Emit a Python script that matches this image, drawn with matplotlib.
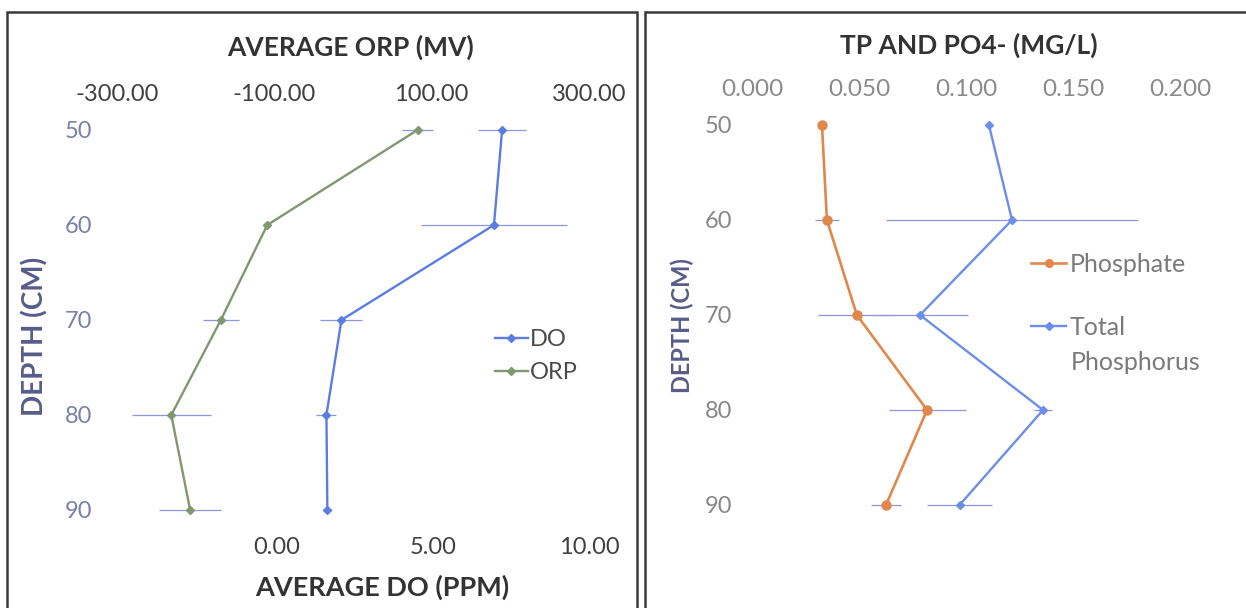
import matplotlib
matplotlib.use('Agg')
import matplotlib.pyplot as plt
from matplotlib.patches import Rectangle
from matplotlib.lines import Line2D

# data
depth = [50, 60, 70, 80, 90]

do_mean = [7.22, 6.96, 2.08, 1.60, 1.63]
do_err = [0.77, 2.33, 0.67, 0.32, 0.15]
orp_mean = [82, -109, -168, -231, -207]
orp_err = [20, 4, 23, 50, 39]

phosphate = [0.0327, 0.0350, 0.0490, 0.0818, 0.0626]
phosphate_err = [0.0, 0.0056, 0.018, 0.018, 0.007]
tp = [0.1107, 0.1215, 0.0785, 0.1360, 0.0970]
tp_err = [0.0, 0.059, 0.0224, 0.004, 0.015]

do_ticks = [0, 5, 10]
orp_ticks = [-300, -100, 100, 300]
p_ticks = [0.0, 0.05, 0.10, 0.15, 0.20]

plt.rcParams['font.family'] = 'Lato'

W, H = 1246, 608
fig = plt.figure(figsize=(W / 100, H / 100), dpi=100)
fig.patch.set_facecolor('white')

def fx(px):
    return px / W

def fy(py):
    return 1 - py / H

# colours
c_do = '#5b7de2'
c_orp = '#80976f'
c_err = '#8d97dc'
c_ph = '#e0884c'
c_tp = '#6b8fe8'
c_dark = '#333333'
c_ylab = '#7b80a8'

# panel borders
fig.add_artist(Rectangle((fx(7), -0.05), fx(630), fy(12) + 0.05, transform=fig.transFigure,
                         fill=False, edgecolor='#3a3a3a', linewidth=1.8))
fig.add_artist(Rectangle((fx(645), -0.05), fx(610), fy(12) + 0.05, transform=fig.transFigure,
                         fill=False, edgecolor='#3a3a3a', linewidth=1.8))

# ---------- left panel ----------
ax = fig.add_axes([fx(117), fy(533.75), fx(472), 427.5 / H])
ax2 = ax.twiny()

ax.errorbar(do_mean, depth, xerr=do_err, color=c_do, lw=1.7, marker='D', ms=4.5,
            ecolor=c_err, elinewidth=0.9, capsize=0, zorder=3)
ax2.errorbar(orp_mean, depth, xerr=orp_err, color=c_orp, lw=1.7, marker='D', ms=4.5,
             ecolor=c_err, elinewidth=0.9, capsize=0, zorder=3)

ax.set_xlim(-5.1, 10)
ax2.set_xlim(-300, 300)
ax.set_ylim(92.5, 47.5)
ax.set_xticks(do_ticks)
ax.set_xticklabels(['%.2f' % v for v in do_ticks])
ax2.set_xticks(orp_ticks)
ax2.set_xticklabels(['%.2f' % v for v in orp_ticks])
ax.set_yticks(depth)

for a in (ax, ax2):
    for s in a.spines.values():
        s.set_visible(False)
    a.patch.set_alpha(0)
ax.tick_params(axis='x', length=0, pad=2, labelsize=17, labelcolor='#404040')
ax2.tick_params(axis='x', length=0, pad=1, labelsize=17, labelcolor='#404040')
ax.tick_params(axis='y', length=0, pad=18, labelsize=17, labelcolor=c_ylab)

h_do = Line2D([], [], color=c_do, lw=1.7, marker='D', ms=4.5)
h_orp = Line2D([], [], color=c_orp, lw=1.7, marker='D', ms=4.5)
ax.legend([h_do, h_orp], ['DO', 'ORP'], loc='upper left', bbox_to_anchor=(0.78, 0.50),
          frameon=False, fontsize=17, handlelength=1.4, handletextpad=0.1,
          labelspacing=0.5, labelcolor='#4a4a4a', borderaxespad=0)

fig.text(fx(351), fy(47), 'AVERAGE ORP (MV)', ha='center', va='center',
         fontsize=19, fontweight='bold', color=c_dark)
fig.text(fx(382), fy(587), 'AVERAGE DO (PPM)', ha='center', va='center',
         fontsize=19.5, fontweight='bold', color=c_dark)
fig.text(fx(35), fy(336), 'DEPTH (CM)', ha='center', va='center', rotation=90,
         fontsize=20, fontweight='bold', color='#585c88')

# ---------- right panel ----------
bx = fig.add_axes([fx(752), fy(528.75), fx(428), 427.5 / H])
bx.errorbar(phosphate, depth, xerr=phosphate_err, color=c_ph, lw=1.9, marker='o', ms=6.5,
            ecolor=c_err, elinewidth=0.9, capsize=0, zorder=3)
bx.errorbar(tp, depth, xerr=tp_err, color=c_tp, lw=1.7, marker='D', ms=4,
            ecolor=c_err, elinewidth=0.9, capsize=0, zorder=3)
bx.set_xlim(0, 0.2)
bx.set_ylim(92.5, 47.5)
bx.set_xticks(p_ticks)
bx.set_xticklabels(['%.3f' % v for v in p_ticks])
bx.set_yticks(depth)
bx.xaxis.tick_top()
for s in bx.spines.values():
    s.set_visible(False)
bx.tick_params(axis='x', length=0, pad=1, labelsize=17.5, labelcolor='#8a8a8a')
bx.tick_params(axis='y', length=0, pad=14, labelsize=17, labelcolor='#878787')

h_ph = Line2D([], [], color=c_ph, lw=1.9, marker='o', ms=5.5)
h_tp = Line2D([], [], color=c_tp, lw=1.7, marker='D', ms=4)
bx.legend([h_ph, h_tp], ['Phosphate', 'Total'], loc='upper left',
          bbox_to_anchor=(0.629, 0.668), frameon=False, fontsize=18, handlelength=1.4,
          handletextpad=0.15, labelspacing=1.6, labelcolor='#7a7a7a', borderaxespad=0)
fig.text(fx(1071), fy(362), 'Phosphorus', ha='left', va='center',
         fontsize=18, color='#7a7a7a')

fig.text(fx(969), fy(45), 'TP AND PO4- (MG/L)', ha='center', va='center',
         fontsize=19, fontweight='bold', color=c_dark)
fig.text(fx(682), fy(326), 'DEPTH (CM)', ha='center', va='center', rotation=90,
         fontsize=17, fontweight='bold', color='#585c88')

fig.savefig('out.png', dpi=100, facecolor='white')
